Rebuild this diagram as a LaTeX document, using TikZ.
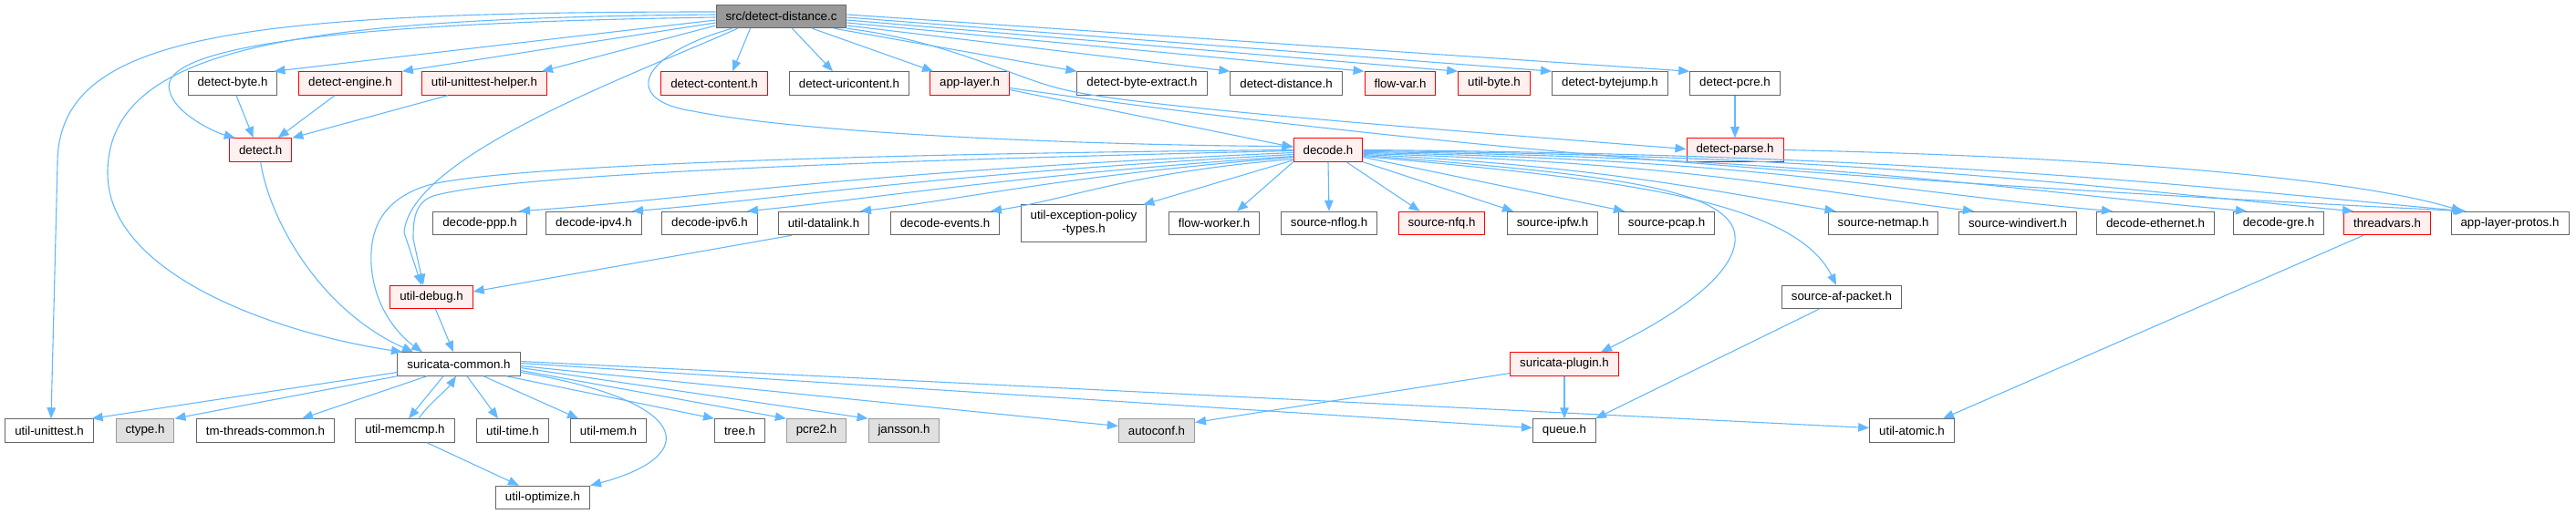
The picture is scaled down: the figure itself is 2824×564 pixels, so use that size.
\documentclass[tikz,border=0pt]{standalone}
\usepackage{fontspec}
\setmainfont{Liberation Sans}
\usetikzlibrary{arrows.meta}
\definecolor{edgeblue}{HTML}{63B8FF}
\definecolor{redfill}{HTML}{FFF0F0}
\definecolor{extfill}{HTML}{E0E0E0}
\definecolor{rootfill}{HTML}{999999}
\definecolor{hdrline}{HTML}{666666}
\definecolor{extline}{HTML}{999999}
\def\rowa{91.5}
\def\rowb{164.5}
\def\rowc{245}
\def\rowd{326}
\def\rowe{399.5}
\def\rowf{472.5}
\def\rowg{546}
\tikzset{
  hdr/.style={draw=hdrline,fill=white,line width=1pt,inner xsep=10.5pt,inner ysep=0pt,minimum height=25.5pt,font=\fontsize{13.3}{15}\selectfont},
  hdrred/.style={hdr,draw=red,fill=redfill},
  hdrext/.style={hdr,draw=extline,fill=extfill},
  srcfile/.style={hdr,fill=rootfill},
  incl/.style={draw=edgeblue,line width=1.1pt,-{Triangle[length=12pt,width=9.5pt]}}
}

\begin{document}
\begin{tikzpicture}[x=1pt,y=-1pt]
\useasboundingbox (0,0) rectangle (2824,564);
\node[srcfile] at (856.5,18) (root) {src/detect-distance.c};
\foreach \st/\nm/\xx/\lbl in {hdr/detectbyte/255/detect-byte.h, hdrred/detectengine/384/detect-engine.h, hdrred/unittesthelper/531/util-unittest-helper.h, hdrred/detectcontent/783/detect-content.h, hdr/uricontent/931/detect-uricontent.h, hdrred/applayer/1063/app-layer.h, hdr/byteextract/1252/detect-byte-extract.h, hdr/detectdistance/1410/detect-distance.h, hdrred/flowvar/1535/flow-var.h, hdrred/utilbyte/1638/util-byte.h, hdr/bytejump/1765/detect-bytejump.h, hdr/detectpcre/1902/detect-pcre.h}
  \node[\st] at (\xx,\rowa) (\nm) {\lbl};
\foreach \st/\nm/\xx/\lbl in {hdrred/detect/285.7/detect.h, hdrred/decode/1456/decode.h, hdrred/detectparse/1902/detect-parse.h}
  \node[\st] at (\xx,\rowb) (\nm) {\lbl};
\foreach \st/\nm/\xx/\lbl in {hdr/decodeppp/526/decode-ppp.h, hdr/decodeipv4/651/decode-ipv4.h, hdr/decodeipv6/778/decode-ipv6.h, hdr/datalink/903/util-datalink.h, hdr/decodeevents/1036/decode-events.h, hdr/flowworker/1331/flow-worker.h, hdr/nflog/1457/source-nflog.h, hdrred/nfq/1580.5/source-nfq.h, hdr/ipfw/1702/source-ipfw.h, hdr/pcap/1827/source-pcap.h, hdr/netmap/2064.5/source-netmap.h, hdr/windivert/2212/source-windivert.h, hdr/ethernet/2363/decode-ethernet.h, hdr/gre/2498/decode-gre.h, hdrred/threadvars/2617/threadvars.h, hdr/applayerprotos/2751.5/app-layer-protos.h}
  \node[\st] at (\xx,\rowc) (\nm) {\lbl};
\node[hdr,minimum height=40pt,align=center] at (1188,\rowc) (exceptionpolicy) {util-exception-policy\\-types.h};
\node[hdrred] at (473,\rowd) (utildebug) {util-debug.h};
\node[hdr] at (2019,\rowd) (afpacket) {source-af-packet.h};
\node[hdr] at (503,\rowe) (suricatacommon) {suricata-common.h};
\node[hdrred] at (1715,\rowe) (plugin) {suricata-plugin.h};
\foreach \st/\nm/\xx/\lbl in {hdr/unittest/54/util-unittest.h, hdrext/ctype/159/ctype.h, hdr/tmthreads/291/tm-threads-common.h, hdr/memcmp/444/util-memcmp.h, hdr/utiltime/562/util-time.h, hdr/utilmem/667/util-mem.h, hdr/tree/811/tree.h, hdrext/pcre2/895/pcre2.h, hdrext/jansson/991/jansson.h, hdrext/autoconf/1268/autoconf.h, hdr/queue/1715/queue.h, hdr/atomic/2096/util-atomic.h}
  \node[\st] at (\xx,\rowf) (\nm) {\lbl};
\node[hdr] at (595,\rowg) (optimize) {util-optimize.h};

\draw[incl] ([yshift=5pt]root.west) .. controls (250,13) and (63,40) .. (63,180) -- ([xshift=2pt]unittest.north);
\draw[incl] ([yshift=2pt]root.west) .. controls (330,20) and (118,50) .. (118,190) .. controls (118,300) and (300,365) .. ([xshift=-62pt]suricatacommon.north);
\draw[incl] ([yshift=-1pt]root.west) .. controls (380,25) and (170,50) .. (186,100) .. controls (192,125) and (235,145) .. ([xshift=-28pt]detect.north);
\draw[incl] ([yshift=-4pt]root.west) -- ([xshift=-4pt]detectbyte.north east);
\draw[incl] ([yshift=-7pt]root.west) -- (detectengine.north east);
\draw[incl] ([yshift=-10pt]root.west) -- ([xshift=-6pt]unittesthelper.north east);
\draw[incl] ([xshift=-48pt]root.south) .. controls (700,80) and (450,170) .. (443,255) -- ([xshift=-11pt]utildebug.north);
\draw[incl] ([xshift=-54pt]root.south) .. controls (700,60) and (680,110) .. (760,122) .. controls (900,150) and (1250,160) .. ([yshift=4pt]decode.west);
\draw[incl] ([xshift=-34pt]root.south) -- ([xshift=20pt]detectcontent.north);
\draw[incl] ([xshift=12pt]root.south) -- ([xshift=-18pt]uricontent.north);
\draw[incl] ([xshift=34pt]root.south) -- ([xshift=4pt]applayer.north west);
\draw[incl] ([xshift=58pt]root.south) -- (byteextract.north west);
\draw[incl] (root.south east) .. controls (1040,45) and (1110,85) .. (1165,98) .. controls (1220,111) and (1350,125) .. ([yshift=1pt]detectparse.west);
\draw[incl] ([yshift=-10pt]root.east) -- (detectdistance.north west);
\draw[incl] ([yshift=-7pt]root.east) -- (flowvar.north west);
\draw[incl] ([yshift=-4pt]root.east) -- (utilbyte.north west);
\draw[incl] ([yshift=-1pt]root.east) -- (bytejump.north west);
\draw[incl] ([yshift=2pt]root.east) -- (detectpcre.north west);

\draw[incl] ([xshift=4pt]detectbyte.south) -- ([xshift=-8pt]detect.north);
\draw[incl] ([xshift=-17pt]detectengine.south) -- ([xshift=19pt]detect.north);
\draw[incl] ([xshift=-40pt]unittesthelper.south) -- (detect.north east);
\draw[incl] (detect.south) .. controls (295,240) and (350,340) .. ([xshift=-50pt]suricatacommon.north);
\draw[incl] ([yshift=-7pt]applayer.east) -- ([yshift=3pt]decode.west);
\draw[incl] ([yshift=-5pt]applayer.east) .. controls (1450,145) and (1850,190) .. ([xshift=-48pt]applayerprotos.north);
\draw[incl] (detectpcre) -- (detectparse);
\draw[incl] (detectparse.east) .. controls (2300,172) and (2580,195) .. ([xshift=-52pt]applayerprotos.north);

\draw[incl] (decode.west) .. controls (1000,168) and (560,180) .. (470,203) .. controls (420,218) and (405,250) .. (407,290) .. controls (410,340) and (440,370) .. ([xshift=-40pt]suricatacommon.north);
\draw[incl] ([yshift=-1pt]decode.west) .. controls (1000,175) and (560,190) .. (475,215) .. controls (455,222) and (453,240) .. (453,262) -- ([xshift=-9pt]utildebug.north);
\draw[incl] ([yshift=-3pt]decode.west) .. controls +(-500,22) and +(200,-14) .. ([xshift=43pt]decodeppp.north);
\draw[incl] ([yshift=-5pt]decode.west) .. controls +(-400,22) and +(170,-14) .. ([xshift=42pt]decodeipv4.north);
\draw[incl] ([yshift=-7pt]decode.west) .. controls +(-300,20) and +(140,-14) .. ([xshift=41pt]decodeipv6.north);
\draw[incl] ([yshift=-8pt]decode.west) .. controls +(-250,20) and +(120,-14) .. ([xshift=40pt]datalink.north);
\draw[incl] ([yshift=-10pt]decode.west) .. controls +(-180,15) and +(90,-14) .. ([xshift=50pt]decodeevents.north);
\draw[incl] ([yshift=2pt]decode.south west) -- ([xshift=-4pt]exceptionpolicy.north east);
\draw[incl] (decode.south west) -- ([xshift=25pt]flowworker.north);
\draw[incl] (decode.south) -- (nflog.north);
\draw[incl] ([xshift=20pt]decode.south) -- ([xshift=-24pt]nfq.north);
\draw[incl] (decode.south east) -- ([xshift=-43pt]ipfw.north);
\draw[incl] ([yshift=-8pt]decode.east) -- ([xshift=-46pt]pcap.north);
\draw[incl] ([yshift=-6pt]decode.east) .. controls (1750,190) and (1880,205) .. (1900,250) .. controls (1915,290) and (1850,340) .. ([xshift=40pt]plugin.north);
\draw[incl] ([yshift=-7pt]decode.east) .. controls (1750,195) and (1965,215) .. ([xshift=-6pt]afpacket.north);
\draw[incl] ([yshift=-5pt]decode.east) .. controls +(250,12) and +(-150,-25) .. ([xshift=-52pt]netmap.north);
\draw[incl] ([yshift=-4pt]decode.east) .. controls +(350,10) and +(-200,-25) .. ([xshift=-48pt]windivert.north);
\draw[incl] ([yshift=-3pt]decode.east) .. controls +(450,8) and +(-250,-22) .. ([xshift=-47pt]ethernet.north);
\draw[incl] ([yshift=-2pt]decode.east) .. controls +(500,6) and +(-280,-25) .. ([xshift=-35pt]gre.north);
\draw[incl] ([yshift=-1pt]decode.east) .. controls +(550,5) and +(-300,-28) .. ([xshift=-37pt]threadvars.north);
\draw[incl] (decode.east) .. controls +(600,5) and +(-320,-30) .. ([xshift=-50pt]applayerprotos.north);

\draw[incl] ([xshift=-35pt]datalink.south) -- ([yshift=6pt]utildebug.east);
\draw[incl] ([xshift=4.5pt]utildebug.south) -- ([xshift=-6pt]suricatacommon.north);
\draw[incl] ([xshift=-25pt]afpacket.south) -- ([xshift=34pt]queue.north);
\draw[incl] (plugin) -- (queue);
\draw[incl] ([yshift=-10pt]plugin.west) -- ([yshift=9pt]autoconf.east);
\draw[incl] ([xshift=-26pt]threadvars.south) -- ([xshift=34pt]atomic.north);

\draw[incl] ([yshift=-9pt]suricatacommon.west) -- ([xshift=-2pt]unittest.north east);
\draw[incl] (suricatacommon.south west) -- (ctype.north east);
\draw[incl] ([xshift=-35pt]suricatacommon.south) -- ([xshift=40pt]tmthreads.north);
\draw[incl] ([xshift=-17pt]suricatacommon.south) -- ([xshift=4pt]memcmp.north);
\draw[incl] ([xshift=15pt]memcmp.north) .. controls +(10,-15) and +(-10,15) .. ([xshift=-3pt]suricatacommon.south);
\draw[incl] ([xshift=9pt]suricatacommon.south) -- ([xshift=-16pt]utiltime.north);
\draw[incl] ([xshift=27pt]suricatacommon.south) -- ([xshift=-33pt]utilmem.north);
\draw[incl] ([xshift=52pt]suricatacommon.south) -- (tree.north west);
\draw[incl] ([yshift=-7pt]suricatacommon.east) -- (pcre2.north west);
\draw[incl] ([yshift=-4pt]suricatacommon.east) -- (jansson.north west);
\draw[incl] ([yshift=-2pt]suricatacommon.east) -- ([yshift=5pt]autoconf.west);
\draw[incl] ([yshift=1pt]suricatacommon.east) -- ([yshift=3pt]queue.west);
\draw[incl] ([yshift=3pt]suricatacommon.east) -- ([yshift=3pt]atomic.west);
\draw[incl] ([yshift=-9pt]suricatacommon.east) .. controls (760,440) and (770,500) .. (optimize.north east);
\draw[incl] ([xshift=24pt]memcmp.south) -- ([xshift=-26pt]optimize.north);
\end{tikzpicture}
\end{document}
